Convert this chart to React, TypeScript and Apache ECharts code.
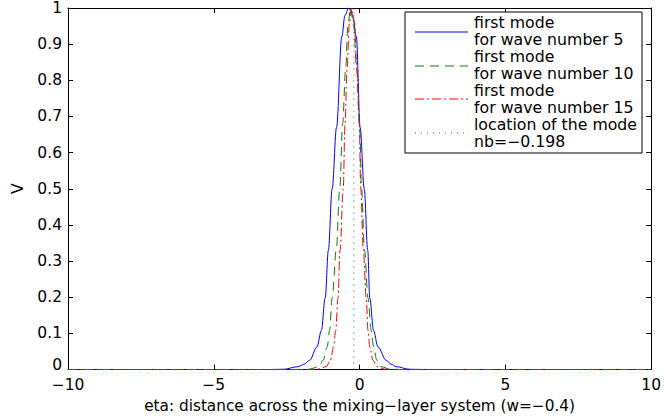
import React, { useEffect, useRef } from "react";
import * as echarts from "echarts";

// Curve samples: [eta, V]
const mode5: [number, number][] = [
  [-10, 0], [-3.2, 0], [-2.6, 0.001], [-2.12, 0.008], [-1.9, 0.015], [-1.71, 0.026], [-1.46, 0.063], [-1.31, 0.108],
  [-1.18, 0.198], [-1.07, 0.33], [-0.94, 0.5], [-0.79, 0.67], [-0.61, 0.92], [-0.5, 0.98],
  [-0.37, 1], [-0.24, 0.98], [-0.11, 0.92], [0.02, 0.67], [0.16, 0.5], [0.28, 0.33],
  [0.35, 0.198], [0.48, 0.108], [0.63, 0.063], [0.91, 0.026], [1.08, 0.015], [1.26, 0.008], [1.7, 0.001], [2.4, 0], [10, 0],
];
const mode10: [number, number][] = [
  [-10, 0], [-2.4, 0], [-1.75, 0.001], [-1.39, 0.008], [-1.25, 0.026], [-1.11, 0.063], [-1.03, 0.108],
  [-0.94, 0.198], [-0.8, 0.33], [-0.68, 0.5], [-0.58, 0.68], [-0.48, 0.83], [-0.4, 0.95],
  [-0.31, 1], [-0.2, 0.95], [-0.1, 0.83], [0.0, 0.68], [0.07, 0.5], [0.17, 0.33],
  [0.29, 0.198], [0.4, 0.108], [0.48, 0.063], [0.59, 0.026], [0.74, 0.008], [1.05, 0.001], [1.6, 0], [10, 0],
];
const mode15: [number, number][] = [
  [-10, 0], [-2.1, 0], [-1.45, 0.001], [-1.14, 0.008], [-1.0, 0.026], [-0.89, 0.063], [-0.82, 0.108],
  [-0.74, 0.198], [-0.67, 0.33], [-0.56, 0.5], [-0.5, 0.68], [-0.43, 0.83], [-0.35, 0.96],
  [-0.27, 1], [-0.18, 0.96], [-0.09, 0.83], [-0.01, 0.68], [0.04, 0.5], [0.13, 0.33],
  [0.23, 0.198], [0.29, 0.108], [0.35, 0.063], [0.46, 0.026], [0.59, 0.008], [0.88, 0.001], [1.4, 0], [10, 0],
];
const modeLocation = -0.198;
const modeLine: [number, number][] = [[modeLocation, 0], [modeLocation, 1]];

const legendLines = [
  "first mode", "for wave number 5",
  "first mode", "for wave number 10",
  "first mode", "for wave number 15",
  "location of the mode", "nb=\u22120.198",
];

const xLabel = "eta: distance across the mixing\u2212layer system (w=\u22120.4)";
const yLabel = "V";

const FONT = "DejaVu Sans";

export default function App() {
  const ref = useRef<HTMLDivElement>(null);
  useEffect(() => {
    if (!ref.current) return;
    const chart = echarts.init(ref.current, undefined, { renderer: "svg" });
    const fmt = (v: number) => String(v).replace("-", "\u2212");
    const axisCommon = {
      axisLine: { show: true, onZero: false, lineStyle: { color: "#000", width: 1 } },
      axisTick: { show: true, inside: true, length: 5, lineStyle: { color: "#000" } },
      splitLine: { show: false },
    };
    const legX = 405, legY = 12, legW = 237, legH = 141;
    const rowY = [23, 40, 57, 74, 91, 108, 125, 142];
    const lineY = [32, 66, 99, 133];
    const dashes: any[] = ["solid", [9, 6], [9, 3, 2, 3], [1, 5]];
    const colors = ["#0000ff", "#008000", "#ff0000", "#2f6f2f"];
    const graphics: any[] = [
      { type: "rect", shape: { x: legX, y: legY, width: legW, height: legH }, style: { fill: "#fff", stroke: "#000", lineWidth: 1 }, z: 10 },
    ];
    lineY.forEach((y, i) => {
      graphics.push({
        type: "line", shape: { x1: 415, y1: y, x2: 468, y2: y },
        style: { stroke: colors[i], lineWidth: 1, lineDash: dashes[i] === "solid" ? null : dashes[i] }, z: 11,
      });
    });
    legendLines.forEach((t, i) => {
      graphics.push({
        type: "text", x: 474, y: rowY[i], scaleX: 1.05,
        style: { text: t, fill: "#000", font: `15px "${FONT}"`, textVerticalAlign: "middle", textAlign: "left" }, z: 11,
      });
    });

    chart.setOption({
      animation: false,
      backgroundColor: "#fff",
      textStyle: { fontFamily: FONT },
      grid: { left: 68, right: 12, top: 5, bottom: 45, containLabel: false },
      xAxis: [
        {
          type: "value", min: -10, max: 10, interval: 5, position: "bottom",
          name: xLabel, nameLocation: "middle", nameGap: 23,
          nameTextStyle: { color: "#000", fontSize: 15.3, fontFamily: FONT },
          axisLabel: { color: "#000", fontSize: 15.5, lineHeight: 13, fontFamily: FONT, margin: 9, formatter: fmt },
          ...axisCommon,
        },
        {
          type: "value", min: -10, max: 10, interval: 5, position: "top",
          axisLabel: { show: false }, ...axisCommon,
        },
      ],
      yAxis: [
        {
          type: "value", min: 0, max: 1, interval: 0.1, position: "left",
          name: yLabel, nameLocation: "middle", nameGap: 33, nameRotate: 90,
          nameTextStyle: { color: "#000", fontSize: 15.5, fontFamily: FONT },
          axisLabel: {
            color: "#000", fontSize: 15.5, lineHeight: 12, fontFamily: FONT, margin: 6,
            formatter: (v: number) => (v === 0 ? "{z|0}" : String(Math.round(v * 10) / 10)),
            rich: { z: { fontSize: 15.5, lineHeight: 12, padding: [0, 0, 9, 0], fontFamily: FONT, color: "#000" } },
          },
          ...axisCommon,
        },
        {
          type: "value", min: 0, max: 1, interval: 0.1, position: "right",
          axisLabel: { show: false }, ...axisCommon,
        },
      ],
      series: [
        { name: "mode5", type: "line", data: mode5, showSymbol: false, smooth: 0.35, smoothMonotone: "x", lineStyle: { color: colors[0], width: 1, type: "solid" }, z: 3 },
        { name: "mode10", type: "line", data: mode10, showSymbol: false, smooth: 0.35, smoothMonotone: "x", lineStyle: { color: colors[1], width: 1, type: dashes[1] }, z: 4 },
        { name: "mode15", type: "line", data: mode15, showSymbol: false, smooth: 0.35, smoothMonotone: "x", lineStyle: { color: colors[2], width: 1, type: dashes[2] }, z: 5 },
        { name: "location", type: "line", data: modeLine, showSymbol: false, lineStyle: { color: colors[3], width: 1, type: dashes[3] }, z: 6 },
      ],
      graphic: graphics,
    });
    return () => chart.dispose();
  }, []);
  return <div ref={ref} style={{ width: 664, height: 418, position: "absolute", left: 0, top: 0 }} />;
}
